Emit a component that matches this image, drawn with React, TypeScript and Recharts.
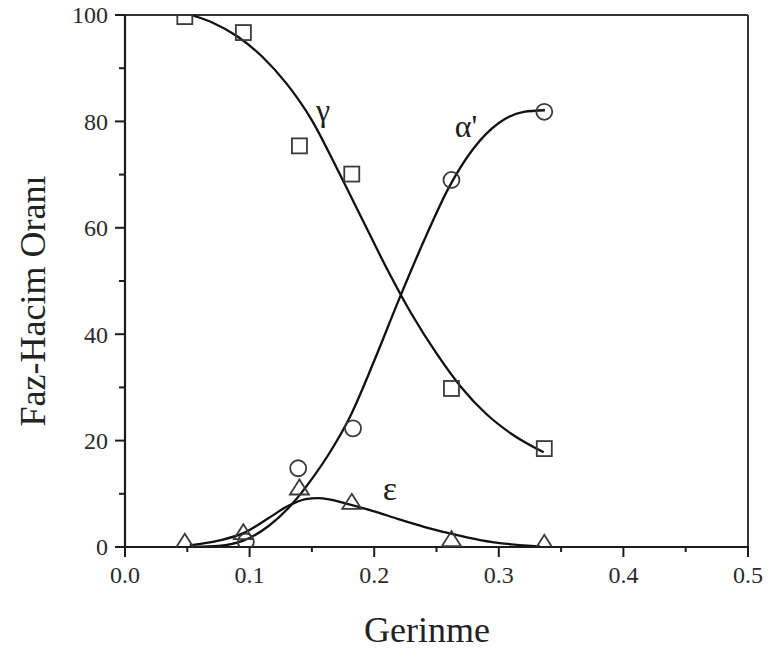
import React from 'react';
import { ComposedChart, Line, Scatter, XAxis, YAxis, ReferenceLine, Customized } from 'recharts';

// Axis ticks
const xTicks = [0, 0.05, 0.1, 0.15, 0.2, 0.25, 0.3, 0.35, 0.4, 0.45, 0.5];
const xTickLabels = ['0.0', '', '0.1', '', '0.2', '', '0.3', '', '0.4', '', '0.5'];
const yTicks = [0, 10, 20, 30, 40, 50, 60, 70, 80, 90, 100];
const yTickLabels = ['0', '', '20', '', '40', '', '60', '', '80', '', '100'];

// Measured points
const gammaX = [0.048, 0.095, 0.14, 0.182, 0.262, 0.3365];
const gammaY = [99.7, 96.7, 75.4, 70.1, 29.8, 18.5];
const alphaX = [0.097, 0.139, 0.183, 0.262, 0.3365];
const alphaY = [1.0, 14.8, 22.3, 69.0, 81.8];
const epsX = [0.048, 0.095, 0.14, 0.182, 0.262, 0.3365];
const epsY = [0.8, 2.6, 11.0, 8.3, 1.3, 0.6];

// Fitted curves
const gammaCurveX = [0.053, 0.07, 0.09, 0.11, 0.13, 0.15, 0.17, 0.19, 0.21, 0.23, 0.25, 0.27, 0.29, 0.31, 0.336];
const gammaCurveY = [100, 98.6, 96.0, 92.2, 87.0, 80.2, 71.2, 61.8, 52.4, 43.8, 36.4, 30.0, 25.0, 21.3, 17.8];
const alphaCurveX = [0.055, 0.075, 0.095, 0.115, 0.135, 0.15, 0.165, 0.18, 0.2, 0.22, 0.24, 0.26, 0.28, 0.3, 0.32, 0.337];
const alphaCurveY = [0, 0.2, 1.2, 3.9, 8.3, 12.8, 18.0, 24.2, 35.0, 46.6, 57.6, 67.6, 75.0, 79.7, 81.8, 82.1];
const epsCurveX = [0.052, 0.075, 0.095, 0.115, 0.13, 0.145, 0.155, 0.165, 0.18, 0.2, 0.22, 0.24, 0.26, 0.285, 0.31, 0.333];
const epsCurveY = [0.3, 1.2, 2.6, 5.4, 7.6, 9.0, 9.2, 8.9, 8.0, 6.7, 5.2, 3.8, 2.6, 1.3, 0.5, 0.1];

// Labels
const xTitle = 'Gerinme';
const yTitle = 'Faz-Hacim Oranı';
const seriesLabels = ['γ', "α'", 'ε'];

const zip = (xs: number[], ys: number[]) => xs.map((x, i) => ({ x, y: ys[i] }));
const gammaPts = zip(gammaX, gammaY);
const alphaPts = zip(alphaX, alphaY);
const epsPts = zip(epsX, epsY);
const gammaCurve = zip(gammaCurveX, gammaCurveY);
const alphaCurve = zip(alphaCurveX, alphaCurveY);
const epsCurve = zip(epsCurveX, epsCurveY);

const FONT = "'Liberation Serif', 'Times New Roman', 'DejaVu Serif', serif";
const AXIS = '#1c1c1c';
const MARK = '#3a3a3a';

const YTick = (props: any) => {
  const { x, y, index } = props;
  const major = index % 2 === 0;
  return (
    <g>
      <line x1={x} x2={x - (major ? 10 : 6)} y1={y} y2={y} stroke={AXIS} strokeWidth={2} />
      {major && (
        <text x={x - 17} y={y} dy="0.35em" textAnchor="end" fontFamily={FONT} fontSize={24} fill="#2a2a2a">
          {yTickLabels[index]}
        </text>
      )}
    </g>
  );
};

const XTick = (props: any) => {
  const { x, y, index } = props;
  const major = index % 2 === 0;
  return (
    <g>
      <line x1={x} x2={x} y1={y} y2={y + (major ? 10 : 5)} stroke={AXIS} strokeWidth={2} />
      {major && (
        <text x={x} y={y + 36} textAnchor="middle" fontFamily={FONT} fontSize={24} fill="#2a2a2a">
          {xTickLabels[index]}
        </text>
      )}
    </g>
  );
};

const Square = (p: any) => (
  <rect x={p.cx - 7.5} y={p.cy - 7.5} width={15} height={15} fill="none" stroke={MARK} strokeWidth={1.8} />
);
const Circle = (p: any) => (
  <circle cx={p.cx} cy={p.cy} r={8} fill="none" stroke={MARK} strokeWidth={1.8} />
);
const Triangle = (p: any) => (
  <path
    d={`M${p.cx},${p.cy - 9} L${p.cx + 9.5},${p.cy + 6} L${p.cx - 9.5},${p.cy + 6} Z`}
    fill="none"
    stroke={MARK}
    strokeWidth={1.8}
  />
);

const Annotations = () => (
  <g fontFamily={FONT} fill="#1c1c1c">
    <text x={323} y={121} fontSize={32} textAnchor="middle">{seriesLabels[0]}</text>
    <text x={466} y={137} fontSize={32} textAnchor="middle">{seriesLabels[1]}</text>
    <text x={390} y={500} fontSize={34} textAnchor="middle">{seriesLabels[2]}</text>
    <text x={427} y={642} fontSize={36} textAnchor="middle" fill="#222">{xTitle}</text>
    <text x={45} y={301} fontSize={36} textAnchor="middle" fill="#222" transform="rotate(-90, 45, 301)">{yTitle}</text>
  </g>
);

export default function App() {
  return (
    <div style={{ position: 'absolute', left: 0, top: 0, background: '#fff' }}>
      <ComposedChart width={774} height={650} margin={{ top: 15, right: 26, bottom: 43, left: 65 }}>
        <XAxis
          type="number"
          dataKey="x"
          domain={[0, 0.5]}
          ticks={xTicks}
          interval={0}
          tickSize={0}
          tickMargin={0}
          tickLine={false}
          tick={<XTick />}
          height={60}
          axisLine={{ stroke: AXIS, strokeWidth: 2.2 }}
          allowDataOverflow
        />
        <YAxis
          type="number"
          dataKey="y"
          domain={[0, 100]}
          ticks={yTicks}
          interval={0}
          tickSize={0}
          tickMargin={0}
          tickLine={false}
          tick={<YTick />}
          width={60}
          axisLine={{ stroke: AXIS, strokeWidth: 2.2 }}
          allowDataOverflow
        />
        <ReferenceLine y={100} stroke="#333" strokeWidth={2} />
        <ReferenceLine x={0.5} stroke="#333" strokeWidth={2} />
        <Line data={gammaCurve} dataKey="y" type="monotone" stroke="#111" strokeWidth={2.3} dot={false} isAnimationActive={false} />
        <Line data={alphaCurve} dataKey="y" type="monotone" stroke="#111" strokeWidth={2.3} dot={false} isAnimationActive={false} />
        <Line data={epsCurve} dataKey="y" type="monotone" stroke="#111" strokeWidth={2.3} dot={false} isAnimationActive={false} />
        <Scatter data={gammaPts} dataKey="y" shape={<Square />} isAnimationActive={false} />
        <Scatter data={alphaPts} dataKey="y" shape={<Circle />} isAnimationActive={false} />
        <Scatter data={epsPts} dataKey="y" shape={<Triangle />} isAnimationActive={false} />
        <Customized component={<Annotations />} />
      </ComposedChart>
    </div>
  );
}
